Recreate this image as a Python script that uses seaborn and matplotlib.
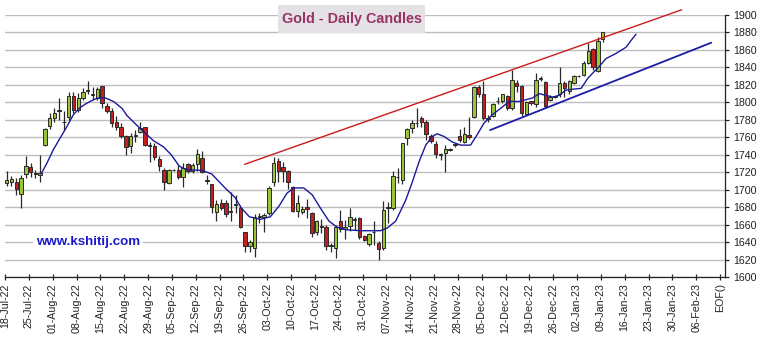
import matplotlib
matplotlib.use("Agg")
import matplotlib.pyplot as plt
from matplotlib.patches import Rectangle
import seaborn as sns
import pandas as pd
import numpy as np

# ---------------- data ----------------
opens = [1708, 1709, 1709, 1695, 1718, 1726, 1719, 1717, 1751, 1773,
         1782, 1790, 1777, 1783, 1807, 1791, 1805, 1813, 1808, 1805,
         1819, 1796, 1790, 1777, 1772, 1761, 1750, 1762, 1766, 1772,
         1751, 1750, 1735, 1722, 1708, 1722, 1723, 1714, 1729, 1721,
         1729, 1736, 1711, 1707, 1674, 1685, 1685, 1676, 1683, 1679,
         1651, 1636, 1633, 1669, 1669, 1673, 1709, 1733, 1726, 1721,
         1703, 1676, 1674, 1680, 1673, 1651, 1657, 1657, 1636, 1633,
         1664, 1655, 1658, 1665, 1667, 1647, 1638, 1651, 1639, 1633,
         1679, 1679, 1714, 1711, 1759, 1771, 1776, 1782, 1777, 1762,
         1752, 1740, 1742, 1745, 1751, 1762, 1755, 1763, 1783, 1818,
         1810, 1781, 1784, 1801, 1802, 1807, 1793, 1822, 1819, 1787,
         1801, 1798, 1827, 1823, 1803, 1806, 1810, 1822, 1813, 1822,
         1830, 1831, 1845, 1861, 1836, 1873]
highs = [1721, 1716, 1713, 1717, 1739, 1731, 1723, 1740, 1771, 1788,
         1793, 1805, 1790, 1812, 1812, 1811, 1816, 1825, 1817, 1818,
         1819, 1799, 1793, 1784, 1776, 1763, 1765, 1768, 1778, 1772,
         1755, 1753, 1738, 1725, 1724, 1724, 1728, 1730, 1731, 1730,
         1746, 1744, 1717, 1707, 1688, 1689, 1688, 1697, 1694, 1683,
         1652, 1642, 1672, 1673, 1673, 1704, 1737, 1736, 1732, 1723,
         1704, 1694, 1681, 1689, 1675, 1665, 1666, 1660, 1639, 1659,
         1677, 1665, 1679, 1669, 1669, 1648, 1650, 1664, 1641, 1687,
         1686, 1721, 1725, 1754, 1771, 1780, 1793, 1784, 1780, 1764,
         1756, 1742, 1751, 1748, 1754, 1770, 1772, 1783, 1819, 1820,
         1824, 1785, 1799, 1806, 1810, 1808, 1837, 1826, 1820, 1802,
         1802, 1834, 1830, 1825, 1808, 1807, 1841, 1824, 1826, 1831,
         1831, 1847, 1868, 1862, 1875, 1881]
lows = [1704, 1704, 1694, 1679, 1713, 1714, 1713, 1709, 1750, 1770,
        1778, 1780, 1768, 1780, 1788, 1789, 1803, 1809, 1803, 1803,
        1793, 1788, 1772, 1768, 1759, 1740, 1742, 1755, 1765, 1750,
        1732, 1734, 1721, 1700, 1706, 1721, 1712, 1703, 1719, 1719,
        1721, 1719, 1706, 1673, 1664, 1677, 1669, 1664, 1673, 1656,
        1629, 1629, 1623, 1662, 1652, 1671, 1704, 1709, 1709, 1701,
        1675, 1669, 1672, 1667, 1646, 1648, 1650, 1631, 1629, 1622,
        1651, 1643, 1653, 1654, 1643, 1641, 1636, 1637, 1619, 1631,
        1662, 1677, 1708, 1706, 1751, 1765, 1772, 1772, 1757, 1753,
        1736, 1734, 1720, 1744, 1749, 1755, 1753, 1758, 1782, 1806,
        1780, 1778, 1783, 1798, 1799, 1791, 1791, 1812, 1784, 1785,
        1797, 1795, 1824, 1794, 1801, 1805, 1806, 1806, 1810, 1821,
        1829, 1830, 1844, 1837, 1835, 1869]
closes = [1711, 1712, 1701, 1713, 1727, 1720, 1718, 1719, 1769, 1782,
          1788, 1791, 1778, 1807, 1791, 1805, 1812, 1814, 1809, 1815,
          1799, 1790, 1776, 1772, 1762, 1749, 1762, 1763, 1771, 1751,
          1750, 1737, 1727, 1709, 1723, 1723, 1714, 1725, 1721, 1728,
          1741, 1720, 1710, 1680, 1684, 1679, 1672, 1675, 1684, 1657,
          1635, 1640, 1669, 1670, 1671, 1702, 1730, 1721, 1721, 1709,
          1676, 1685, 1678, 1678, 1650, 1664, 1658, 1635, 1636, 1657,
          1655, 1657, 1669, 1666, 1646, 1642, 1649, 1651, 1632, 1677,
          1680, 1716, 1715, 1753, 1769, 1776, 1776, 1777, 1764, 1756,
          1741, 1740, 1746, 1746, 1752, 1757, 1764, 1760, 1818, 1809,
          1782, 1782, 1798, 1802, 1809, 1793, 1826, 1819, 1788, 1800,
          1799, 1826, 1827, 1796, 1806, 1806, 1822, 1816, 1825, 1830,
          1830, 1845, 1859, 1841, 1870, 1880]

# displaced moving average (blue curve), sampled along its length
ma_days = [7.2, 8.4, 9.8, 11.2, 12.6, 14.0, 15.4, 16.8, 18.2, 19.6,
           20.7, 22.4, 24.2, 25.2, 28.0, 30.8, 32.9, 34.5, 36.2, 37.6,
           41.0, 43.0, 45.8, 47.9, 49.2, 50.9, 53.2, 55.3, 57.1, 58.8,
           60.2, 62.3, 64.1, 65.8, 67.6, 69.3, 71.4, 74.2, 76.3, 78.4,
           79.8, 81.6, 83.7, 85.1, 86.5, 87.9, 89.3, 90.3, 91.7, 93.5,
           95.2, 97.3, 98.7, 100.1, 101.9, 103.6, 105.4, 107.5, 108.9, 110.3,
           111.7, 113.1, 114.5, 115.9, 117.3, 118.7, 120.5, 121.9, 123.2, 124.3,
           125.7, 127.8, 129.9, 131.0, 132.0]
ma_values = [1718, 1730, 1746, 1759, 1772, 1786, 1794, 1799, 1803, 1805.5,
             1805, 1801, 1793, 1785, 1770, 1756, 1749, 1740, 1727, 1723,
             1722, 1718, 1702, 1691, 1679, 1669, 1666, 1669, 1681, 1696,
             1702, 1702, 1694, 1679, 1664, 1657, 1654, 1653, 1653, 1653,
             1656, 1664, 1688, 1709, 1732, 1751, 1761, 1764, 1761, 1754.5,
             1751, 1751, 1763, 1776, 1786, 1793, 1801, 1801, 1803, 1805,
             1810, 1808, 1806, 1808, 1814, 1815, 1816, 1827.5, 1835, 1841,
             1850, 1856, 1863, 1871, 1878]

resistance_days = [49.9, 141.6]
resistance_values = [1729, 1906]
support_days = [101.4, 147.8]
support_values = [1768.2, 1868.3]

week_labels = ["18-Jul-22", "25-Jul-22", "01-Aug-22", "08-Aug-22", "15-Aug-22",
               "22-Aug-22", "29-Aug-22", "05-Sep-22", "12-Sep-22", "19-Sep-22",
               "26-Sep-22", "03-Oct-22", "10-Oct-22", "17-Oct-22", "24-Oct-22",
               "31-Oct-22", "07-Nov-22", "14-Nov-22", "21-Nov-22", "28-Nov-22",
               "05-Dec-22", "12-Dec-22", "19-Dec-22", "26-Dec-22", "02-Jan-23",
               "09-Jan-23", "16-Jan-23", "23-Jan-23", "30-Jan-23", "06-Feb-23",
               "EOF()"]
price_ticks = list(range(1600, 1901, 20))
title_text = "Gold - Daily Candles"
watermark_text = "www.kshitij.com"

# ---------------- style ----------------
sns.set_theme(style="white")
plt.rcParams["font.family"] = ["Liberation Sans", "DejaVu Sans"]

W, H = 763, 344
fig = plt.figure(figsize=(W / 100, H / 100), dpi=100)
fig.patch.set_facecolor("white")
ax = fig.add_axes([5 / W, 67 / H, 720 / W, 262 / H])
ax.set_facecolor("white")

UP = "#9cc43a"
DOWN = "#c41e1e"
LAST = "#cdb81a"
EDGE = "#2a2a2a"

df = pd.DataFrame({"open": opens, "high": highs, "low": lows, "close": closes})
df["day"] = np.arange(len(df))
df["bottom"] = df[["open", "close"]].min(axis=1)
df["height"] = (df["close"] - df["open"]).abs().clip(lower=0.7)
colors = [UP if c >= o else DOWN for o, c in zip(df["open"], df["close"])]
colors[-1] = LAST

# wicks and bodies
ax.vlines(df["day"], df["low"], df["high"], color=EDGE, lw=0.9, zorder=3)
ax.bar(df["day"], df["height"], bottom=df["bottom"], width=0.72,
       color=colors, edgecolor=EDGE, linewidth=0.7, zorder=4)

# moving average and trend lines
ma_df = pd.DataFrame({"day": ma_days, "price": ma_values})
sns.lineplot(data=ma_df, x="day", y="price", ax=ax, color="#1a1a9a",
             lw=1.0, sort=False, estimator=None, zorder=5)
res_df = pd.DataFrame({"day": resistance_days, "price": resistance_values})
sns.lineplot(data=res_df, x="day", y="price", ax=ax, color="#cc1a1a",
             lw=1.0, sort=False, estimator=None, zorder=5, clip_on=False)
sup_df = pd.DataFrame({"day": support_days, "price": support_values})
sns.lineplot(data=sup_df, x="day", y="price", ax=ax, color="#1c1ca8",
             lw=1.3, sort=False, estimator=None, zorder=5)

# axes
x0 = -0.36
ax.set_xlim(x0, x0 + 151.04)
ax.set_ylim(1600, 1900)
ax.set_xticks([x0 + 5 * k for k in range(len(week_labels))])
ax.set_xticklabels(week_labels, rotation=90, fontsize=7.7, color="#222222")
ax.yaxis.tick_right()
ax.set_yticks(price_ticks)
ax.set_yticklabels([str(t) for t in price_ticks], fontsize=7.7, color="#222222")
ax.set_xlabel("")
ax.set_ylabel("")
ax.yaxis.grid(True, color="#bdbdbd", lw=1.0, zorder=0)
ax.xaxis.grid(False)
ax.set_axisbelow(True)
for s in ["left", "top"]:
    ax.spines[s].set_visible(False)
for s in ["right", "bottom"]:
    ax.spines[s].set_visible(True)
    ax.spines[s].set_color("#222222")
    ax.spines[s].set_linewidth(0.9)
ax.tick_params(axis="x", direction="inout", length=5, width=0.9,
               color="#222222", pad=2, bottom=True)
ax.tick_params(axis="y", direction="out", length=3, width=0.9,
               color="#222222", pad=3, right=True, left=False)

# title box
fig.patches.append(Rectangle((278 / W, 1 - 33 / H), 147 / W, 28 / H,
                             transform=fig.transFigure, facecolor="#e4e2e4",
                             edgecolor="none", zorder=10))
fig.text(351.5 / W, 1 - 19.5 / H, title_text, ha="center", va="center",
         fontsize=10.4, fontweight="bold", color="#993366", zorder=11)

# watermark
fig.text(88 / W, 1 - 242.5 / H, watermark_text, ha="center", va="center",
         fontsize=9.6, fontweight="bold", color="#1a1acc", zorder=11,
         bbox=dict(facecolor="white", edgecolor="none", boxstyle="square,pad=0.2"))

fig.savefig("out.png", dpi=100, facecolor="white")
